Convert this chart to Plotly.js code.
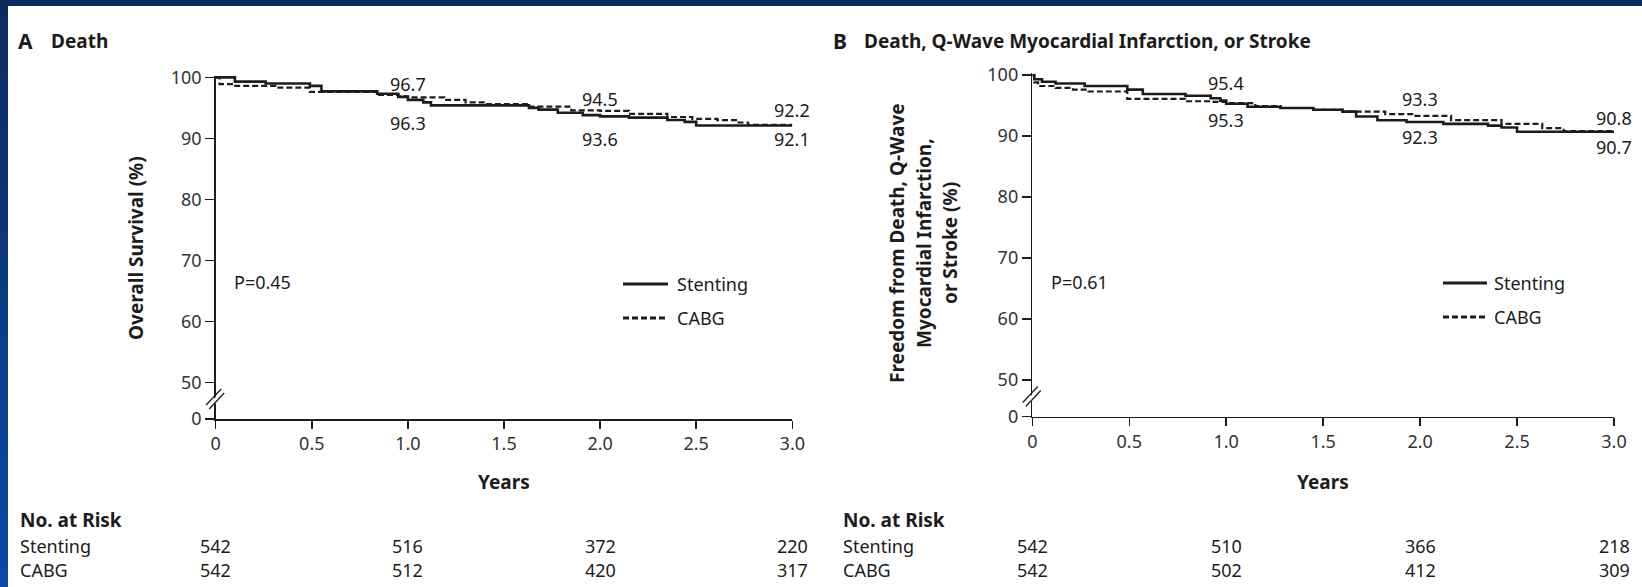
<!DOCTYPE html>
<html>
<head>
<meta charset="utf-8">
<script src="https://cdn.plot.ly/plotly-3.0.1.min.js"></script>
<style>
  html, body { margin: 0; padding: 0; }
  body {
    width: 1642px; height: 587px; overflow: hidden;
    background:
      linear-gradient(#0b2a5e, #0b2a5e) top left / 100% 6px no-repeat,
      linear-gradient(to bottom, #0b2a5e, #0a4aa6) top left / 8px 100% no-repeat,
      #ffffff;
  }
  #chart { width: 1642px; height: 587px; }
</style>
</head>
<body>
<div id="chart"></div>
<script>
// ---------------- DATA ----------------
// Panel A: Death (overall survival, %)
const A_stent_t = [0, 0.10, 0.26, 0.49, 0.55, 0.84, 0.95, 1.00, 1.08, 1.12, 1.63, 1.68, 1.78, 1.91, 2.00, 2.15, 2.35, 2.44, 2.50, 3.00];
const A_stent_s = [100, 99.3, 99.0, 98.6, 97.7, 97.3, 96.8, 96.3, 95.9, 95.4, 95.0, 94.7, 94.2, 93.8, 93.6, 93.4, 93.0, 92.7, 92.1, 92.1];
const A_cabg_t  = [0, 0.02, 0.09, 0.31, 0.49, 0.84, 0.95, 1.00, 1.19, 1.30, 1.41, 1.63, 1.85, 2.00, 2.15, 2.35, 2.48, 2.61, 2.72, 2.77, 3.00];
const A_cabg_s  = [100, 98.9, 98.6, 98.3, 97.6, 97.1, 96.9, 96.7, 96.3, 95.9, 95.6, 95.2, 94.6, 94.5, 94.0, 93.5, 93.2, 93.0, 92.6, 92.2, 92.2];

// Panel B: Death, Q-wave MI, or stroke (freedom from event, %)
const B_stent_t = [0, 0.01, 0.05, 0.12, 0.27, 0.49, 0.57, 0.79, 0.92, 0.97, 1.00, 1.11, 1.28, 1.45, 1.60, 1.67, 1.78, 1.93, 2.12, 2.35, 2.42, 2.50, 3.00];
const B_stent_s = [100, 99.3, 98.9, 98.6, 98.2, 97.6, 96.9, 96.6, 96.2, 95.8, 95.3, 94.8, 94.6, 94.3, 94.0, 93.2, 92.6, 92.3, 92.0, 91.7, 91.4, 90.7, 90.7];
const B_cabg_t  = [0, 0.01, 0.03, 0.12, 0.21, 0.29, 0.49, 0.79, 0.92, 1.00, 1.15, 1.28, 1.45, 1.60, 1.82, 1.97, 2.16, 2.42, 2.63, 2.74, 3.00];
const B_cabg_s  = [100, 98.8, 98.2, 97.9, 97.6, 97.3, 96.1, 95.7, 95.6, 95.4, 94.9, 94.6, 94.3, 94.0, 93.6, 93.3, 92.6, 92.0, 91.3, 90.8, 90.8];

// Labelled values at 1, 2, 3 years
const labelYears = [1, 2, 3];
const A_label_stent = [96.3, 93.6, 92.1];
const A_label_cabg  = [96.7, 94.5, 92.2];
const B_label_stent = [95.3, 92.3, 90.7];
const B_label_cabg  = [95.4, 93.3, 90.8];

// Numbers at risk
const riskYears = [0, 1, 2, 3];
const A_risk_stent = [542, 516, 372, 220];
const A_risk_cabg  = [542, 512, 420, 317];
const B_risk_stent = [542, 510, 366, 218];
const B_risk_cabg  = [542, 502, 412, 309];

// Axis ticks
const xTickVals = [0, 0.5, 1.0, 1.5, 2.0, 2.5, 3.0];
const xTickText = ['0', '0.5', '1.0', '1.5', '2.0', '2.5', '3.0'];
const BREAK_BASE = 44;  // position standing for "0" below the axis break
const yTickVals = [BREAK_BASE, 50, 60, 70, 80, 90, 100];
const yTickText = ['0', '50', '60', '70', '80', '90', '100'];

const pValues = ['P=0.45', 'P=0.61'];
const seriesNames = ['Stenting', 'CABG'];

// ---------------- LAYOUT HELPERS ----------------
const W = 1642, H = 587;
const px = x => x / W;
const py = y => 1 - y / H;
const FONT = 'Noto Sans, Open Sans, DejaVu Sans, sans-serif';
const INK = '#1c1c1c';

// label offsets (pixels) above/below the curve value
const A_upShift = [13, 12, 14.5], A_downShift = [-23, -22.5, -13];
const B_upShift = [20, 17, 13.5], B_downShift = [-16, -15, -15.5];

const traces = [
  {x: A_stent_t, y: A_stent_s, xaxis: 'x', yaxis: 'y', mode: 'lines', line: {shape: 'hv', color: INK, width: 2.6}, hoverinfo: 'skip', showlegend: false},
  {x: A_cabg_t,  y: A_cabg_s,  xaxis: 'x', yaxis: 'y', mode: 'lines', line: {shape: 'hv', color: INK, width: 2.2, dash: '6px,3px'}, hoverinfo: 'skip', showlegend: false},
  {x: B_stent_t, y: B_stent_s, xaxis: 'x2', yaxis: 'y2', mode: 'lines', line: {shape: 'hv', color: INK, width: 2.6}, hoverinfo: 'skip', showlegend: false},
  {x: B_cabg_t,  y: B_cabg_s,  xaxis: 'x2', yaxis: 'y2', mode: 'lines', line: {shape: 'hv', color: INK, width: 2.2, dash: '6px,3px'}, hoverinfo: 'skip', showlegend: false}
];

function xAxis(dom, anchor) {
  return {
    domain: dom, range: [0, 3], anchor: anchor,
    showline: true, linecolor: INK, linewidth: 1.5,
    ticks: 'outside', ticklen: 8, tickwidth: 1.5, tickcolor: INK,
    tickvals: xTickVals, ticktext: xTickText,
    tickfont: {family: FONT, size: 18, color: '#333'},
    showgrid: false, zeroline: false, fixedrange: true
  };
}
function yAxis(dom, anchor) {
  return {
    domain: dom, range: [BREAK_BASE, 100.3], anchor: anchor,
    showline: true, linecolor: INK, linewidth: 1.5,
    ticks: 'outside', ticklen: 9, tickwidth: 1.5, tickcolor: INK,
    tickvals: yTickVals, ticktext: yTickText,
    tickfont: {family: FONT, size: 18, color: '#333'},
    showgrid: false, zeroline: false, fixedrange: true
  };
}

const annotations = [];
function txt(x, y, text, opts) {
  annotations.push(Object.assign({
    xref: 'paper', yref: 'paper', x: px(x), y: py(y), text: text, showarrow: false,
    xanchor: 'left', yanchor: 'middle',
    font: {family: FONT, size: 18, color: INK}
  }, opts || {}));
}

// Panel titles
txt(16, 41, '<b>A</b>', {font: {family: FONT, size: 21, color: INK}});
txt(49, 41, '<b>Death</b>', {font: {family: FONT, size: 19, color: INK}});
txt(831, 41, '<b>B</b>', {font: {family: FONT, size: 21, color: INK}});
txt(862, 41, '<b>Death, Q-Wave Myocardial Infarction, or Stroke</b>', {font: {family: FONT, size: 19, color: INK}});

// Y axis titles
txt(136, 248, '<b>Overall Survival (%)</b>', {xanchor: 'center', textangle: -90, font: {family: FONT, size: 19, color: INK}});
txt(897, 243, '<b>Freedom from Death, Q-Wave</b>', {xanchor: 'center', textangle: -90, font: {family: FONT, size: 19, color: INK}});
txt(924, 243, '<b>Myocardial Infarction,</b>', {xanchor: 'center', textangle: -90, font: {family: FONT, size: 19, color: INK}});
txt(950, 243, '<b>or Stroke (%)</b>', {xanchor: 'center', textangle: -90, font: {family: FONT, size: 19, color: INK}});

// X axis titles
txt(504, 482, '<b>Years</b>', {xanchor: 'center', font: {family: FONT, size: 19, color: INK}});
txt(1323, 482, '<b>Years</b>', {xanchor: 'center', font: {family: FONT, size: 19, color: INK}});

// P values
txt(232, 282, pValues[0]);
txt(1049, 282, pValues[1]);

// Legends
txt(675, 284, seriesNames[0]);
txt(675, 318, seriesNames[1]);
txt(1492, 283, seriesNames[0]);
txt(1492, 317, seriesNames[1]);

// Curve value labels
function curveLabels(xr, yr, vals, shifts) {
  labelYears.forEach((t, i) => {
    annotations.push({
      xref: xr, yref: yr, x: t, y: vals[i], text: vals[i].toFixed(1), showarrow: false,
      xanchor: 'center', yanchor: 'middle', yshift: shifts[i],
      font: {family: FONT, size: 18, color: INK}
    });
  });
}
curveLabels('x', 'y', A_label_cabg, A_upShift);
curveLabels('x', 'y', A_label_stent, A_downShift);
curveLabels('x2', 'y2', B_label_cabg, B_upShift);
curveLabels('x2', 'y2', B_label_stent, B_downShift);

// Numbers at risk
txt(18, 520, '<b>No. at Risk</b>', {font: {family: FONT, size: 19, color: INK}});
txt(18, 546, seriesNames[0]);
txt(18, 570, seriesNames[1]);
txt(841, 520, '<b>No. at Risk</b>', {font: {family: FONT, size: 19, color: INK}});
txt(841, 546, seriesNames[0]);
txt(841, 570, seriesNames[1]);
function riskRow(xr, vals, y) {
  riskYears.forEach((t, i) => {
    annotations.push({
      xref: xr, yref: 'paper', x: t, y: py(y), text: String(vals[i]), showarrow: false,
      xanchor: 'center', yanchor: 'middle',
      font: {family: FONT, size: 18, color: INK}
    });
  });
}
riskRow('x', A_risk_stent, 546);
riskRow('x', A_risk_cabg, 570);
riskRow('x2', B_risk_stent, 546);
riskRow('x2', B_risk_cabg, 570);

// Shapes: legend samples and axis breaks
const shapes = [];
function seg(x0, y0, x1, y1, style) {
  shapes.push({type: 'line', xref: 'paper', yref: 'paper', x0: px(x0), y0: py(y0), x1: px(x1), y1: py(y1),
               line: Object.assign({color: INK, width: 3}, style || {})});
}
seg(623, 284, 668, 284);
seg(623, 318, 668, 318, {dash: '6px,3px'});
seg(1443, 283, 1487, 283);
seg(1443, 317, 1487, 317, {dash: '6px,3px'});

function axisBreak(ax, ay) {
  const pts = [[ax - 8.5, ay + 12], [ax + 5.5, ay - 3], [ax + 8.5, ay], [ax - 5.5, ay + 15]];
  const path = 'M ' + pts.map(p => px(p[0]) + ',' + py(p[1])).join(' L ') + ' Z';
  shapes.push({type: 'path', xref: 'paper', yref: 'paper', path: path, fillcolor: '#ffffff', line: {width: 0}});
  seg(ax - 9.5, ay + 11, ax + 5.5, ay - 5, {width: 1.3});
  seg(ax - 6.5, ay + 15, ax + 8.5, ay - 1, {width: 1.3});
}
axisBreak(215.7, 394);
axisBreak(1032.3, 391.5);

const layout = {
  width: W, height: H,
  margin: {l: 0, r: 0, t: 0, b: 0},
  paper_bgcolor: 'rgba(0,0,0,0)',
  plot_bgcolor: 'rgba(0,0,0,0)',
  showlegend: false,
  xaxis: xAxis([px(215.7), px(792.3)], 'y'),
  yaxis: yAxis([py(419), py(75.5)], 'x'),
  xaxis2: xAxis([px(1032.3), px(1614)], 'y2'),
  yaxis2: yAxis([py(416.7), py(73.2)], 'x2'),
  annotations: annotations,
  shapes: shapes
};

Plotly.newPlot('chart', traces, layout, {displayModeBar: false, staticPlot: true});
</script>
</body>
</html>
